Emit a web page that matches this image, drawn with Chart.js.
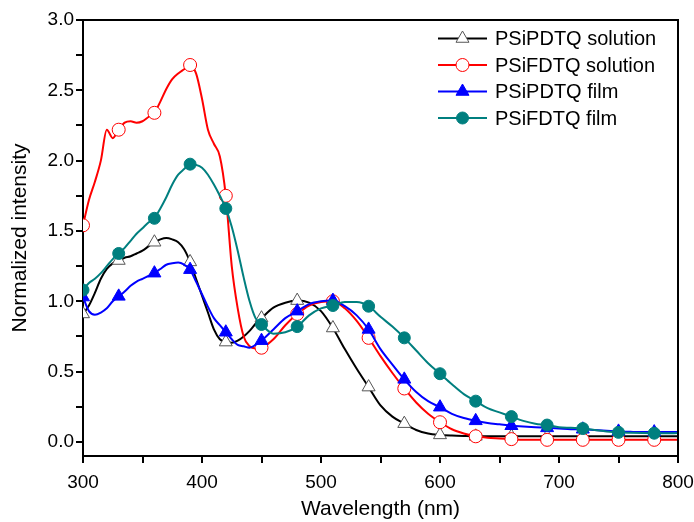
<!DOCTYPE html>
<html>
<head>
<meta charset="utf-8">
<script src="https://cdn.jsdelivr.net/npm/chart.js@4.4.1/dist/chart.umd.min.js"></script>
<style>
html, body { margin: 0; padding: 0; background: #fff; }
#wrap { width: 694px; height: 522px; }
</style>
</head>
<body>
<div id="wrap"><canvas id="chart-1" width="694" height="522"></canvas></div>
<script>
// wavelength grid (nm): 5 nm steps up to 450, then 10 nm
var wavelength = [300, 305, 310, 315, 320, 325, 330, 335, 340, 345, 350, 355, 360, 365, 370, 375, 380, 385, 390, 395, 400, 405, 410, 415, 420, 425, 430, 435, 440, 445, 450,
    460, 470, 480, 490, 500, 510, 520, 530, 540, 550, 560, 570, 580, 590, 600, 610, 620, 630, 640, 650, 660, 670, 680, 690, 700, 710, 720, 730, 740, 750, 760, 770, 780, 790, 800];

var psipdtq_solution = [0.91, 0.97, 1.06, 1.16, 1.23, 1.27, 1.29, 1.31, 1.32, 1.34, 1.36, 1.39, 1.42, 1.44, 1.45, 1.44, 1.42, 1.37, 1.28, 1.16, 1.04, 0.92, 0.80, 0.73, 0.71, 0.705, 0.72, 0.75, 0.79, 0.84, 0.88,
    0.955, 0.99, 1.005, 0.99, 0.93, 0.81, 0.66, 0.52, 0.39, 0.26, 0.18, 0.13, 0.085, 0.06, 0.05, 0.045, 0.042, 0.04, 0.04, 0.04, 0.04, 0.04, 0.04, 0.04, 0.04, 0.04, 0.04, 0.04, 0.04, 0.04, 0.04, 0.04, 0.04, 0.04, 0.04];

var psifdtq_solution = [1.54, 1.72, 1.85, 2.0, 2.22, 2.16, 2.22, 2.27, 2.28, 2.27, 2.28, 2.31, 2.34, 2.42, 2.51, 2.58, 2.62, 2.65, 2.68, 2.62, 2.44, 2.22, 2.12, 2.03, 1.75, 1.25, 0.95, 0.75, 0.68, 0.665, 0.67,
    0.73, 0.83, 0.91, 0.97, 0.995, 1.0, 0.95, 0.86, 0.74, 0.61, 0.49, 0.38, 0.28, 0.2, 0.14, 0.09, 0.06, 0.04, 0.03, 0.025, 0.02, 0.015, 0.015, 0.015, 0.015, 0.015, 0.015, 0.015, 0.015, 0.015, 0.015, 0.015, 0.015, 0.015, 0.015];

var psipdtq_film = [1.03, 0.93, 0.905, 0.92, 0.95, 1.0, 1.035, 1.07, 1.11, 1.14, 1.16, 1.18, 1.2, 1.23, 1.26, 1.27, 1.275, 1.26, 1.225, 1.14, 1.05, 0.96, 0.88, 0.83, 0.78, 0.73, 0.69, 0.68, 0.67, 0.69, 0.72,
    0.8, 0.88, 0.93, 0.98, 1.0, 1.005, 0.965, 0.9, 0.8, 0.66, 0.55, 0.445, 0.355, 0.29, 0.247, 0.2, 0.17, 0.15, 0.135, 0.125, 0.115, 0.11, 0.105, 0.1, 0.095, 0.09, 0.09, 0.085, 0.08, 0.075, 0.072, 0.07, 0.07, 0.07, 0.07];

var psifdtq_film = [1.08, 1.13, 1.16, 1.2, 1.25, 1.3, 1.34, 1.38, 1.43, 1.48, 1.52, 1.56, 1.59, 1.66, 1.74, 1.83, 1.9, 1.94, 1.975, 1.97, 1.95, 1.9, 1.83, 1.75, 1.66, 1.53, 1.36, 1.17, 1.0, 0.88, 0.835,
    0.77, 0.78, 0.82, 0.9, 0.95, 0.97, 0.995, 0.995, 0.965, 0.89, 0.82, 0.74, 0.65, 0.56, 0.485, 0.41, 0.34, 0.29, 0.24, 0.21, 0.18, 0.15, 0.13, 0.12, 0.105, 0.1, 0.095, 0.085, 0.075, 0.068, 0.065, 0.063, 0.062, 0.062, 0.063];

var x_ticks = [300, 350, 400, 450, 500, 550, 600, 650, 700, 750, 800];
var y_ticks = [0, 0.25, 0.5, 0.75, 1.0, 1.25, 1.5, 1.75, 2.0, 2.25, 2.5, 2.75, 3.0];

function pts(values) {
    return wavelength.map(function(w, i) { return { x: w, y: values[i] }; });
}

// markers only every 30 nm
function markerRadius(r) {
    return function(c) { return wavelength[c.dataIndex] % 30 === 0 ? r : 0; };
}

var series = [
    { label: "PSiPDTQ solution", data: psipdtq_solution, color: "#000000", style: "triangle", fill: "#ffffff", edge: "#555555", r: 7.5, order: 4 },
    { label: "PSiFDTQ solution", data: psifdtq_solution, color: "#ff0000", style: "circle", fill: "#ffffff", edge: "#ff0000", r: 6.5, order: 3 },
    { label: "PSiPDTQ film", data: psipdtq_film, color: "#0000ff", style: "triangle", fill: "#0000ff", edge: "#0000ff", r: 7.5, order: 2 },
    { label: "PSiFDTQ film", data: psifdtq_film, color: "#007f7f", style: "circle", fill: "#007f7f", edge: "#007f7f", r: 6, order: 1 },
];

function drawMarker(ctx, s, x, y) {
    ctx.save();
    ctx.fillStyle = s.fill;
    ctx.strokeStyle = s.edge;
    ctx.lineWidth = 1;
    ctx.beginPath();
    if (s.style === "circle") {
        ctx.arc(x, y, s.r, 0, Math.PI * 2);
    } else {
        for (let k = 0; k < 3; k++) {
            var a = k * 2 * Math.PI / 3;
            var px = x + Math.sin(a) * s.r, py = y - Math.cos(a) * s.r;
            if (k === 0) ctx.moveTo(px, py); else ctx.lineTo(px, py);
        }
        ctx.closePath();
    }
    ctx.fill();
    ctx.stroke();
    ctx.restore();
}

const framePlugin = {
    id: "frame",
    afterDraw: function(chart) {
        const ctx = chart.ctx;
        const a = chart.chartArea;
        ctx.save();
        ctx.strokeStyle = "#000";
        ctx.lineWidth = 2;
        ctx.beginPath();
        ctx.moveTo(a.left, a.top);
        ctx.lineTo(a.right, a.top);
        ctx.lineTo(a.right, a.bottom);
        ctx.stroke();

        // legend
        ctx.font = "20px 'Liberation Sans', Arial, sans-serif";
        ctx.textBaseline = "middle";
        ctx.fillStyle = "#000";
        for (let i = 0; i < series.length; i++) {
            const s = series[i];
            const y = 38.5 + i * 26.5;
            ctx.strokeStyle = s.color;
            ctx.lineWidth = 2;
            ctx.beginPath();
            ctx.moveTo(438, y);
            ctx.lineTo(487, y);
            ctx.stroke();
            drawMarker(ctx, s, 462.5, y);
            ctx.fillStyle = "#000";
            ctx.fillText(s.label, 495, y + 1);
        }
        ctx.restore();
    }
};

const tickFont = { family: "'Liberation Sans', Arial, sans-serif", size: 19 };
const titleFont = { family: "'Liberation Sans', Arial, sans-serif", size: 21 };

const ctx = document.getElementById("chart-1").getContext("2d");
const myChart = new Chart(ctx, {
    type: "line",
    data: {
        datasets: series.map(function(s) {
            return {
                label: s.label,
                data: pts(s.data),
                borderColor: s.color,
                backgroundColor: s.fill,
                borderWidth: 2,
                cubicInterpolationMode: "monotone",
                pointStyle: s.style,
                pointRadius: markerRadius(s.r),
                pointBackgroundColor: s.fill,
                pointBorderColor: s.edge,
                pointBorderWidth: 1,
                order: s.order,
                fill: false,
            };
        }),
    },
    options: {
        responsive: false,
        animation: false,
        devicePixelRatio: 1,
        layout: { padding: { left: 0, top: 20, right: 16, bottom: 0 } },
        plugins: {
            legend: { display: false },
            tooltip: { enabled: false },
        },
        scales: {
            x: {
                type: "linear",
                min: 300,
                max: 800,
                afterBuildTicks: function(s) { s.ticks = x_ticks.map(function(v) { return { value: v }; }); },
                afterFit: function(s) { s.height = 66; s.paddingLeft = 0; s.paddingRight = 0; },
                ticks: {
                    autoSkip: false,
                    maxRotation: 0,
                    color: "#000",
                    font: tickFont,
                    padding: 8,
                    callback: function(v) { return v % 100 === 0 ? String(v) : ""; },
                },
                grid: { drawOnChartArea: false, drawTicks: true, tickLength: 7, color: "#000", lineWidth: 2 },
                border: { color: "#000", width: 2 },
                title: { display: true, text: "Wavelength (nm)", color: "#000", font: titleFont, padding: { top: 0, bottom: 0 } },
            },
            y: {
                min: -0.1,
                max: 3.0,
                afterBuildTicks: function(s) { s.ticks = y_ticks.map(function(v) { return { value: v }; }); },
                afterFit: function(s) { s.width = 83; },
                ticks: {
                    autoSkip: false,
                    color: "#000",
                    font: tickFont,
                    padding: 2,
                    callback: function(v) { return Math.abs(v * 2 - Math.round(v * 2)) < 1e-6 ? v.toFixed(1) : ""; },
                },
                grid: { drawOnChartArea: false, drawTicks: true, tickLength: 7, color: "#000", lineWidth: 2 },
                border: { color: "#000", width: 2 },
                title: { display: true, text: "Normalized intensity", color: "#000", font: titleFont, padding: { top: 8, bottom: 0 } },
            },
        },
    },
    plugins: [framePlugin],
});
</script>
</body>
</html>
